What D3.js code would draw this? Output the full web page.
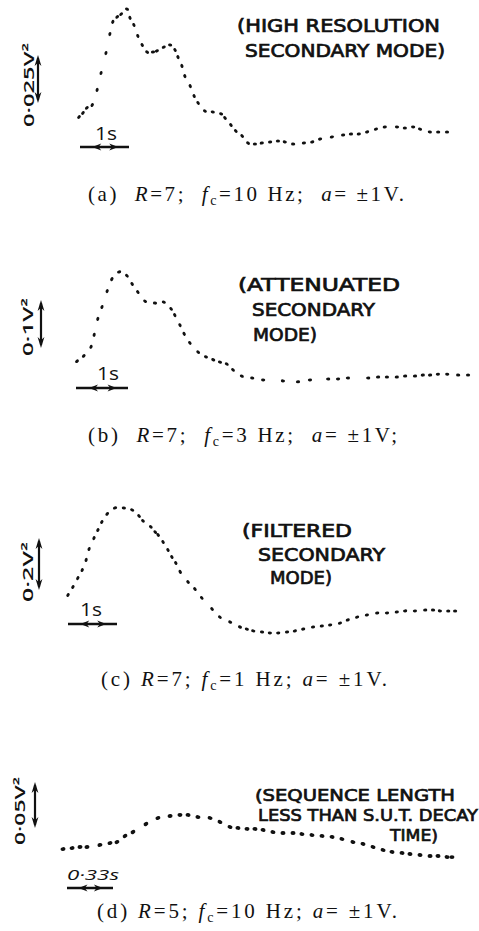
<!DOCTYPE html>
<html>
<head>
<meta charset="utf-8">
<script src="https://cdn.jsdelivr.net/npm/d3@7"></script>
<style>
  body { margin: 0; background: #fff; }
  text { fill: #111; }
  .cap { font-family: "Liberation Serif", "Times New Roman", serif; white-space: pre; }
  .hand { font-family: "Open Sans", "DejaVu Sans", sans-serif; }
  .note { font-family: "DejaVu Sans", sans-serif; stroke: #111; stroke-width: 0.7px; }
</style>
</head>
<body>
<svg id="chart" width="479" height="931"></svg>
<script>
// (a) R=7, fc=10 Hz — time (s) and output power (V²)
const timeA = [0.00,0.08,0.16,0.27,0.37,0.45,0.55,0.63,0.69,0.78,0.86,0.98,1.04,1.12,1.20,1.29,1.39,1.51,1.59,1.73,
  1.86,1.96,2.02,2.10,2.16,2.27,2.35,2.43,2.57,2.73,2.90,2.98,3.10,3.20,3.33,3.45,3.59,3.73,3.90,4.06,
  4.20,4.37,4.59,4.76,4.92,5.16,5.39,5.55,5.71,5.88,6.06,6.24,6.49,6.65,6.82,6.96,7.16,7.33,7.51];
const powerA = [0.0172,0.0193,0.0219,0.0234,0.0313,0.0401,0.0505,0.0604,0.0667,0.0693,0.0708,0.0734,0.0688,0.0651,0.0594,0.0547,0.0510,0.0510,0.0516,0.0536,
  0.0547,0.0521,0.0484,0.0438,0.0385,0.0333,0.0281,0.0245,0.0203,0.0198,0.0188,0.0167,0.0130,0.0099,0.0073,0.0036,0.0031,0.0036,0.0042,0.0047,
  0.0042,0.0031,0.0036,0.0042,0.0057,0.0068,0.0078,0.0083,0.0083,0.0094,0.0109,0.0120,0.0120,0.0115,0.0120,0.0109,0.0094,0.0094,0.0094];

// (b) R=7, fc=3 Hz
const timeB = [0.00,0.13,0.27,0.33,0.40,0.48,0.58,0.67,0.81,0.96,1.06,1.17,1.31,1.50,1.67,1.81,1.88,1.98,2.06,2.17,
  2.33,2.48,2.62,2.75,2.88,3.00,3.17,3.37,3.58,3.96,4.25,4.48,4.83,5.02,5.21,5.60,5.79,5.96,6.15,6.31,
  6.50,6.65,6.79,6.94,7.12,7.33,7.52];
const powerB = [0.060,0.071,0.090,0.115,0.148,0.173,0.206,0.231,0.246,0.238,0.221,0.204,0.185,0.181,0.183,0.169,0.156,0.135,0.117,0.098,
  0.079,0.069,0.063,0.058,0.054,0.042,0.029,0.025,0.021,0.019,0.017,0.021,0.023,0.023,0.025,0.025,0.027,0.027,0.027,0.029,
  0.029,0.031,0.031,0.033,0.033,0.031,0.031];

// (c) R=7, fc=1 Hz
const timeC = [0.00,0.10,0.20,0.29,0.37,0.43,0.53,0.61,0.69,0.80,0.96,1.14,1.31,1.45,1.53,1.69,1.78,1.84,1.94,2.04,
  2.12,2.20,2.29,2.45,2.59,2.73,2.94,3.10,3.31,3.51,3.65,3.78,3.96,4.12,4.29,4.47,4.63,4.80,5.00,5.18,
  5.35,5.55,5.71,5.90,6.10,6.31,6.51,6.71,6.88,7.08,7.29,7.45,7.59,7.76,7.90];
const powerC = [0.173,0.204,0.238,0.269,0.308,0.350,0.392,0.423,0.454,0.485,0.508,0.508,0.500,0.477,0.458,0.435,0.415,0.404,0.377,0.346,
  0.319,0.296,0.262,0.223,0.196,0.162,0.119,0.088,0.069,0.050,0.042,0.035,0.031,0.027,0.027,0.031,0.035,0.042,0.050,0.054,
  0.058,0.065,0.077,0.088,0.096,0.104,0.104,0.108,0.112,0.112,0.115,0.115,0.112,0.112,0.112];

// (d) R=5, fc=10 Hz
const timeD = [0.000,0.065,0.122,0.172,0.265,0.337,0.387,0.445,0.502,0.595,0.681,0.768,0.839,0.897,0.968,1.055,1.126,1.198,1.255,1.320,
  1.377,1.435,1.506,1.578,1.650,1.714,1.786,1.858,1.930,2.001,2.080,2.152,2.224,2.296,2.360,2.432,2.489,2.561,2.633,2.690,
  2.755,2.790];
const powerD = [0.0228,0.0239,0.0250,0.0250,0.0272,0.0293,0.0304,0.0370,0.0413,0.0500,0.0565,0.0587,0.0598,0.0598,0.0576,0.0565,0.0522,0.0467,0.0457,0.0446,
  0.0446,0.0435,0.0413,0.0402,0.0402,0.0391,0.0380,0.0370,0.0359,0.0337,0.0304,0.0283,0.0250,0.0217,0.0196,0.0185,0.0174,0.0163,0.0152,0.0152,
  0.0141,0.0141];

// Scale-bar sizes and their labels
const timeBars = [1, 1, 1, 0.33];
const timeBarLabels = ["1s", "1s", "1s", "0·33s"];
const powerBars = [0.025, 0.1, 0.2, 0.05];
const powerBarLabels = ["0·025V²", "0·1V²", "0·2V²", "0·05V²"];

// Hand-lettered notes
const notesA = ["(HIGH RESOLUTION", "SECONDARY MODE)"];
const notesB = ["(ATTENUATED", "SECONDARY", "MODE)"];
const notesC = ["(FILTERED", "SECONDARY", "MODE)"];
const notesD = ["(SEQUENCE LENGTH", "LESS THAN S.U.T. DECAY", "TIME)"];

// Captions: [label, R, fc, ending]
const captionLabels = ["(a)", "(b)", "(c)", "(d)"];
const captionR = ["7", "7", "7", "5"];
const captionFc = ["10", "3", "1", "10"];
const captionEnd = [".", ";", ".", "."];

// Layout of each panel
const layout = [
  { t: timeA, v: powerA, x0: 79, pxs: 49, y0: 150, pxu: 48, bar: { x: 80, y: 147, lx: 95, ly: 140 },
    vbar: { x: 38, bottom: 103 }, vlab: { x: 28, y: 85, len: 84 }, dot: [2.1, 1.5],
    notes: notesA, noteBox: [[237, 32, 203], [245, 57, 200]], noteSize: 17,
    cap: { x: 88, w: 316, y: 201, gap: "  " } },
  { t: timeB, v: powerB, x0: 77, pxs: 52, y0: 390, pxu: 48, bar: { x: 76, y: 388, lx: 97, ly: 380 },
    vbar: { x: 41, bottom: 348 }, vlab: { x: 27, y: 327, len: 58 }, dot: [2.1, 1.5],
    notes: notesB, noteBox: [[238, 291, 162], [252, 316, 123], [253, 341, 64]], noteSize: 17,
    cap: { x: 88, w: 309, y: 442, gap: "  " } },
  { t: timeC, v: powerC, x0: 68, pxs: 49, y0: 640, pxu: 52, bar: { x: 68, y: 624, lx: 80, ly: 616 },
    vbar: { x: 39, bottom: 590 }, vlab: { x: 27, y: 572, len: 60 }, dot: [2.1, 1.5],
    notes: notesC, noteBox: [[242, 537, 110], [258, 561, 127], [270, 584, 62]], noteSize: 17,
    cap: { x: 101, w: 286, y: 686, gap: " " } },
  { t: timeD, v: powerD, x0: 63, pxs: 139.4, y0: 870, pxu: 46, bar: { x: 67, y: 888, lx: 67, ly: 880 },
    vbar: { x: 35, bottom: 828 }, vlab: { x: 19, y: 811, len: 68 }, dot: [2.5, 1.9],
    notes: notesD, noteBox: [[255, 801, 200], [258, 821, 220], [390, 841, 48]], noteSize: 16,
    cap: { x: 97, w: 300, y: 918, gap: " " } }
];

const svg = d3.select("#chart");

function arrowHead(g, x, y, angle, len, half) {
  const pts = [[0, 0], [-len, -half], [-len * 0.7, 0], [-len, half]];
  g.append("path")
    .attr("d", d3.line()(pts) + "Z")
    .attr("transform", `translate(${x},${y}) rotate(${angle})`)
    .attr("fill", "#111");
}

layout.forEach((p, i) => {
  const g = svg.append("g");
  const tMax = d3.max(p.t);
  const vMax = d3.max(p.v);
  const x = d3.scaleLinear().domain([0, tMax]).range([p.x0, p.x0 + tMax * p.pxs]);
  const y = d3.scaleLinear().domain([0, vMax]).range([p.y0, p.y0 - vMax / powerBars[i] * p.pxu]);

  // Plotter dots, each elongated along the trace
  const pts = p.t.map((t, k) => [x(t), y(p.v[k])]);
  g.selectAll("ellipse").data(pts).join("ellipse")
    .attr("cx", d => d[0]).attr("cy", d => d[1])
    .attr("rx", p.dot[0]).attr("ry", p.dot[1])
    .attr("fill", "#111")
    .attr("transform", (d, k) => {
      const a = pts[Math.max(0, k - 1)], b = pts[Math.min(pts.length - 1, k + 1)];
      const ang = Math.atan2(b[1] - a[1], b[0] - a[0]) * 180 / Math.PI;
      return `rotate(${ang},${d[0]},${d[1]})`;
    });

  // Time scale bar
  const bx0 = p.bar.x, bx1 = p.bar.x + timeBars[i] * p.pxs;
  g.append("line").attr("x1", bx0).attr("x2", bx1).attr("y1", p.bar.y).attr("y2", p.bar.y)
    .attr("stroke", "#111").attr("stroke-width", 2.6);
  arrowHead(g, bx0 + (bx1 - bx0) * 0.25, p.bar.y, 180, 9, 3.4);
  arrowHead(g, bx0 + (bx1 - bx0) * 0.78, p.bar.y, 0, 9, 3.4);
  g.append("text").attr("class", "hand")
    .attr("x", p.bar.lx).attr("y", p.bar.ly)
    .style("font-size", i === 3 ? "15px" : "18px").style("font-weight", 400)
    .style("font-style", i === 3 ? "italic" : "normal")
    .attr("textLength", i === 3 ? 52 : 22).attr("lengthAdjust", "spacingAndGlyphs")
    .text(timeBarLabels[i]);

  // Power scale bar
  const vy1 = p.vbar.bottom, vy0 = p.vbar.bottom - p.pxu;
  g.append("line").attr("x1", p.vbar.x).attr("x2", p.vbar.x).attr("y1", vy0 + 3).attr("y2", vy1 - 3)
    .attr("stroke", "#111").attr("stroke-width", 2.2);
  arrowHead(g, p.vbar.x, vy0, -90, 11, 3.4);
  arrowHead(g, p.vbar.x, vy1, 90, 11, 3.4);
  g.append("text").attr("class", "hand")
    .attr("transform", `translate(${p.vlab.x},${p.vlab.y}) rotate(-90)`)
    .attr("text-anchor", "middle").attr("dominant-baseline", "central")
    .style("font-size", "15px").style("font-weight", 600)
    .attr("textLength", p.vlab.len).attr("lengthAdjust", "spacingAndGlyphs")
    .text(powerBarLabels[i]);

  // Notes
  p.notes.forEach((s, k) => {
    const [nx, ny, nw] = p.noteBox[k];
    g.append("text").attr("class", "note")
      .attr("x", nx).attr("y", ny)
      .style("font-size", p.noteSize + "px")
      .attr("textLength", nw).attr("lengthAdjust", "spacingAndGlyphs")
      .text(s);
  });

  // Caption
  const c = p.cap, sp = c.gap;
  const cap = g.append("text").attr("class", "cap")
    .attr("x", c.x).attr("y", c.y).style("font-size", "21px")
    .attr("textLength", c.w).attr("lengthAdjust", "spacing");
  cap.append("tspan").text(captionLabels[i] + sp);
  cap.append("tspan").style("font-style", "italic").text("R");
  cap.append("tspan").text("=" + captionR[i] + ";" + sp);
  cap.append("tspan").style("font-style", "italic").text("f");
  cap.append("tspan").style("font-size", "14px").attr("dy", 4).text("c");
  cap.append("tspan").attr("dy", -4).text("=" + captionFc[i] + " Hz;" + sp);
  cap.append("tspan").style("font-style", "italic").text("a");
  cap.append("tspan").text("= ±1V" + captionEnd[i]);
});
</script>
</body>
</html>
